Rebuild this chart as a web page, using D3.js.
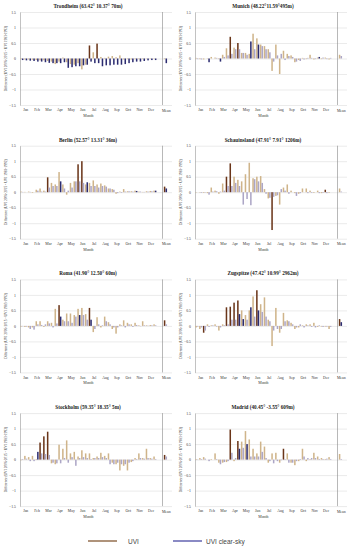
<!DOCTYPE html>
<html><head><meta charset="utf-8">
<script src="https://cdn.jsdelivr.net/npm/d3@7/dist/d3.min.js"></script>
<style>html,body{margin:0;padding:0;background:#fff;}svg{display:block;}</style>
</head><body>
<svg id="c" width="350" height="550"></svg>
<script>
const months = ["Jan","Feb","Mar","Apr","May","Jun","Jul","Aug","Sep","Oct","Nov","Dec"];
const yTicks = [-1.5,-1,-0.5,0,0.5,1,1.5];
const titles = ["Trondheim (63.42° 10.37° 70m)","Munich (48.22°11.59°495m)","Berlin (52.57° 13.31° 36m)","Schauinsland (47.91° 7.91° 1206m)","Roma (41.90° 12.50° 60m)","Zugspitze (47.42° 10.99° 2962m)","Stockholm (59.35° 18.35° 5m)","Madrid (40.45° -3.55° 609m)"];

// 36 ten-day values per station (3 per month), UVI and UVI clear-sky
const uviTrondheim = [-0.02,-0.03,-0.03,-0.04,-0.05,-0.06,-0.06,-0.08,-0.1,-0.18,-0.1,0.03,-0.12,-0.18,-0.2,-0.15,-0.35,-0.2,0.42,0.2,0.48,0.05,0.02,0.06,0.08,0.04,0.1,-0.03,-0.02,-0.03,-0.02,-0.02,-0.02,-0.01,-0.01,-0.01];
const csTrondheim  = [-0.05,-0.06,-0.07,-0.08,-0.1,-0.1,-0.12,-0.14,-0.15,-0.15,-0.15,-0.12,-0.3,-0.28,-0.25,-0.25,-0.22,-0.2,-0.1,-0.15,-0.15,-0.25,-0.22,-0.22,-0.2,-0.2,-0.2,-0.18,-0.15,-0.12,-0.1,-0.1,-0.08,-0.06,-0.05,-0.05];
const meanTrondheim = [-0.02,-0.15];
const sigUviTrondheim = [18,20];
const sigCsTrondheim = [0,1,2,3,4,5,6,7,8,9,10,11,12,13,14,15,16,17,18,19,20,21,22,23,24,25,26,27,28,29,30,31,32,33,34,35,"m"];

const uviMunich = [0.02,-0.02,-0.03,-0.01,0.05,0.03,-0.02,0.12,0.33,0.7,0.35,0.5,0.18,0.18,0.15,0.8,0.65,0.45,0.4,0.3,-0.4,0.45,-0.5,0.25,0.15,0.1,-0.12,-0.05,0.02,-0.02,0.12,-0.03,0.03,-0.02,0.03,-0.03];
const csMunich  = [-0.02,-0.03,0.0,-0.12,0.0,0.02,-0.1,0.05,0.1,0.15,0.3,0.3,0.18,0.12,0.55,0.3,0.45,0.4,0.3,0.2,-0.1,0.1,0.15,-0.05,0.08,0.05,-0.1,-0.08,-0.03,0.02,0.02,-0.02,0.05,0.03,-0.02,0.02];
const meanMunich = [0.12,0.08];
const sigUviMunich = [9,11];
const sigCsMunich = [3,6,14,16,32];

const uviBerlin = [0.02,0.01,0.02,-0.02,0.08,0.12,0.05,0.48,0.3,0.25,0.65,0.25,-0.08,0.3,0.35,0.9,1.0,0.25,0.3,0.38,0.25,0.28,0.22,0.12,0.1,-0.05,0.02,0.1,0.03,0.03,0.05,0.02,0.01,0.03,0.04,0.05];
const csBerlin  = [0.01,0.0,0.01,0.0,0.05,0.02,0.02,0.15,0.2,0.2,0.35,0.12,0.05,0.15,0.35,0.35,0.3,0.32,0.2,0.2,0.15,0.2,0.18,0.12,0.08,-0.03,-0.02,0.02,0.03,0.02,0.04,0.02,0.01,0.02,0.03,0.05];
const meanBerlin = [0.18,0.12];
const sigUviBerlin = [7,15,16,"m"];
const sigCsBerlin = [10,17,30,35,"m"];

const uviSchauinsland = [-0.01,-0.01,-0.02,-0.03,0.15,0.05,-0.05,0.28,0.5,0.93,0.5,0.4,0.35,0.58,0.95,0.45,0.5,0.52,0.1,-0.2,-1.22,-0.12,-0.4,0.15,0.25,0.05,-0.03,-0.05,0.12,0.12,0.05,-0.02,0.05,-0.03,0.08,-0.02];
const csSchauinsland  = [0.0,-0.02,-0.01,-0.08,0.02,0.03,0.02,0.05,0.2,0.2,0.3,0.2,-0.4,-0.22,-0.42,0.42,0.35,0.3,-0.05,-0.18,-0.15,-0.1,0.1,0.05,-0.05,0.0,-0.12,-0.03,0.0,-0.03,-0.02,0.0,-0.03,-0.02,-0.03,0.0];
const meanSchauinsland = [0.12,0.02];
const sigUviSchauinsland = [8,9,20,34];
const sigCsSchauinsland = [];

const uviRoma = [-0.02,-0.03,-0.05,-0.05,0.15,0.15,-0.03,0.15,0.1,0.55,0.67,0.2,0.4,0.4,0.35,0.55,0.58,0.38,0.58,-0.2,0.28,-0.05,0.3,0.12,-0.1,-0.25,0.05,0.18,0.1,0.05,0.1,0.02,0.15,0.02,0.03,0.05];
const csRoma  = [-0.01,-0.02,-0.1,-0.12,0.05,0.03,0.05,0.08,-0.05,0.08,0.3,0.15,0.15,0.1,0.3,0.35,0.35,0.2,0.2,-0.1,0.05,0.02,0.15,0.05,-0.05,-0.05,0.02,-0.05,0.05,-0.03,0.03,-0.01,0.02,0.01,0.02,0.02];
const meanRoma = [0.18,0.05];
const sigUviRoma = [10,18,"m"];
const sigCsRoma = [10,15,18];

const uviZugspitze = [-0.05,-0.1,-0.22,0.05,0.02,0.05,-0.15,0.05,0.6,0.62,0.75,0.82,0.5,0.35,0.5,0.95,1.15,0.7,0.92,0.2,-0.65,0.58,-0.22,0.42,0.18,0.1,-0.1,-0.05,0.02,0.05,0.05,0.1,-0.03,-0.02,-0.02,-0.1];
const csZugspitze  = [-0.02,-0.05,-0.15,-0.03,0.02,-0.02,-0.05,0.02,0.05,0.2,0.2,0.38,0.22,0.2,0.6,0.3,0.5,0.45,0.3,0.15,-0.15,-0.1,-0.1,0.15,0.15,0.05,-0.05,0.05,-0.05,0.02,-0.03,-0.05,0.02,-0.03,-0.02,-0.03];
const meanZugspitze = [0.22,0.12];
const sigUviZugspitze = [2,8,9,10,11,16,"m"];
const sigCsZugspitze = [11,12,14,16,"m"];

const uviStockholm = [-0.02,0.12,0.08,0.12,0.02,0.55,0.75,0.9,-0.12,-0.15,0.48,0.35,0.62,0.2,0.25,0.1,0.3,0.2,0.2,0.05,0.1,0.22,0.12,0.2,-0.1,-0.15,-0.35,-0.2,-0.35,-0.08,0.05,0.2,0.05,0.35,0.05,0.1];
const csStockholm  = [0.02,0.03,-0.05,-0.05,0.25,0.2,0.18,0.15,-0.1,-0.12,-0.12,0.05,-0.1,0.08,-0.2,0.05,0.08,0.05,0.02,0.05,0.05,0.08,0.05,-0.15,-0.15,-0.1,-0.15,-0.15,-0.1,-0.05,0.02,0.05,0.03,0.05,0.03,0.02];
const meanStockholm = [0.15,0.1];
const sigUviStockholm = [5,6,7,"m"];
const sigCsStockholm = [4];

const uviMadrid = [0.02,0.05,0.08,0.0,0.02,0.2,-0.1,-0.1,-0.08,0.97,-0.05,0.6,0.58,0.92,0.65,0.35,0.2,0.58,0.42,-0.1,0.2,0.22,-0.1,0.35,0.2,-0.1,-0.18,-0.05,0.35,-0.05,0.02,0.22,0.1,0.05,0.02,0.08];
const csMadrid  = [0.01,0.02,0.03,-0.05,0.0,0.02,-0.15,-0.08,-0.05,0.22,0.05,0.35,0.38,0.5,0.1,0.1,0.1,0.25,0.05,-0.05,-0.12,-0.05,-0.02,0.02,-0.1,-0.1,-0.05,0.02,0.1,0.05,0.05,0.05,0.02,0.02,0.03,0.02];
const meanMadrid = [0.18,0.02];
const sigUviMadrid = [9,11,23];
const sigCsMadrid = [11,13];

const panels = [
  [uviTrondheim, csTrondheim, meanTrondheim, sigUviTrondheim, sigCsTrondheim],
  [uviMunich, csMunich, meanMunich, sigUviMunich, sigCsMunich],
  [uviBerlin, csBerlin, meanBerlin, sigUviBerlin, sigCsBerlin],
  [uviSchauinsland, csSchauinsland, meanSchauinsland, sigUviSchauinsland, sigCsSchauinsland],
  [uviRoma, csRoma, meanRoma, sigUviRoma, sigCsRoma],
  [uviZugspitze, csZugspitze, meanZugspitze, sigUviZugspitze, sigCsZugspitze],
  [uviStockholm, csStockholm, meanStockholm, sigUviStockholm, sigCsStockholm],
  [uviMadrid, csMadrid, meanMadrid, sigUviMadrid, sigCsMadrid]
];

const COL = {uviDark:"#6a3519", uviLight:"#cfb48a", csDark:"#2c2c70", csLight:"#aca6c6"};
const svg = d3.select("#c");
const serif = "'Liberation Serif','DejaVu Serif',serif";

panels.forEach((p, k) => {
  const [uvi, cs, mean, sigU, sigC] = p;
  const col = k % 2, row = Math.floor(k / 2);
  const x0 = col * 175;
  const top = 12 + row * 133.7, bottom = top + 93;
  const left = x0 + 20, right = x0 + 172;
  const x = d3.scaleLinear().domain([0, 40]).range([left, right]);
  const y = d3.scaleLinear().domain([-1.5, 1.5]).range([bottom, top]);
  const g = svg.append("g");

  // grid
  g.append("g").attr("transform", `translate(${left},0)`)
    .call(d3.axisLeft(y).tickValues(yTicks).tickSize(-(right - left)).tickFormat(""))
    .call(s => s.select(".domain").remove())
    .call(s => s.selectAll("line").attr("stroke", "#d6d6d6").attr("stroke-width", 0.5));
  // y axis labels
  g.append("g").attr("transform", `translate(${left},0)`)
    .call(d3.axisLeft(y).tickValues(yTicks).tickSize(0).tickPadding(4).tickFormat(d => d3.format("")(d)))
    .call(s => s.select(".domain").attr("stroke", "#999").attr("stroke-width", 0.6))
    .call(s => s.selectAll("text").attr("font-family", serif).attr("font-size", 3.8).attr("fill", "#333"));
  // separator before Mean
  g.append("line").attr("x1", x(37.5)).attr("x2", x(37.5)).attr("y1", top).attr("y2", bottom)
    .attr("stroke", "#888").attr("stroke-width", 0.6);

  const bw = x(0.4) - x(0);
  const bars = [];
  uvi.forEach((v, i) => bars.push({pos: i + 0.08, v, c: sigU.includes(i) ? COL.uviDark : COL.uviLight}));
  cs.forEach((v, i) => bars.push({pos: i + 0.5, v, c: sigC.includes(i) ? COL.csDark : COL.csLight}));
  bars.push({pos: 37.85, v: mean[0], c: sigU.includes("m") ? COL.uviDark : COL.uviLight});
  bars.push({pos: 38.3, v: mean[1], c: sigC.includes("m") ? COL.csDark : COL.csLight});
  g.append("g").selectAll("rect").data(bars).join("rect")
    .attr("x", d => x(d.pos)).attr("width", bw)
    .attr("y", d => y(Math.max(0, d.v))).attr("height", d => Math.abs(y(d.v) - y(0)))
    .attr("fill", d => d.c);

  // month axis
  const band = d3.scaleBand().domain(months).range([x(0), x(36)]);
  g.append("g").attr("transform", `translate(0,${bottom})`)
    .call(d3.axisBottom(band).tickSize(0).tickPadding(3.5))
    .call(s => s.select(".domain").remove())
    .call(s => s.selectAll("text").attr("font-family", serif).attr("font-size", 3.8).attr("fill", "#333"));
  g.append("text").attr("x", x(38.5)).attr("y", bottom + 6.5).attr("text-anchor", "middle")
    .attr("font-family", serif).attr("font-size", 3.8).attr("fill", "#333").text("Mean");
  g.append("text").attr("x", (x(0) + x(36)) / 2).attr("y", bottom + 12).attr("text-anchor", "middle")
    .attr("font-family", serif).attr("font-size", 3.8).attr("fill", "#333").text("Month");
  // title
  g.append("text").attr("x", x0 + 88).attr("y", top - 4).attr("text-anchor", "middle")
    .attr("font-family", serif).attr("font-size", 5.2).attr("font-weight", "bold").attr("fill", "#222")
    .text(titles[k]);
  // y title
  g.append("text").attr("transform", `translate(${x0 + 7},${(top + bottom) / 2}) rotate(-90)`)
    .attr("text-anchor", "middle").attr("font-family", serif).attr("font-size", 3.5).attr("fill", "#333")
    .text("Difference (UVI 2006-2015 - UVI 1983-1992)");
});

// legend
const leg = svg.append("g");
const items = [{label: "UVI", c: "#7a4a22", x: 88}, {label: "UVI clear-sky", c: "#3b3b9c", x: 173}];
items.forEach(it => {
  leg.append("line").attr("x1", it.x).attr("x2", it.x + 29).attr("y1", 541).attr("y2", 541)
    .attr("stroke", it.c).attr("stroke-width", 1.2);
  leg.append("text").attr("x", it.x + (it.label === "UVI" ? 40 : 33)).attr("y", 543.5)
    .attr("font-family", "'Liberation Sans',Arial,sans-serif").attr("font-size", 6.5).attr("fill", "#444")
    .text(it.label);
});
</script>
</body></html>
